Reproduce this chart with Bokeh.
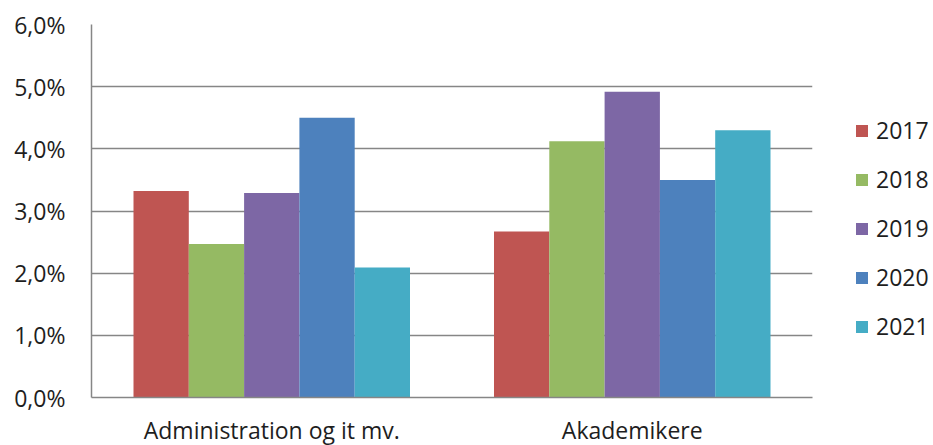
from bokeh.plotting import figure
from bokeh.models import FactorRange, Range1d, FixedTicker, Legend, LegendItem, ColumnDataSource
from bokeh.transform import dodge
from bokeh.embed import file_html
from bokeh.resources import INLINE

categories = ["Administration og it mv.", "Akademikere"]
years = ["2017", "2018", "2019", "2020", "2021"]
values_2017 = [3.32, 2.67]
values_2018 = [2.47, 4.12]
values_2019 = [3.29, 4.92]
values_2020 = [4.50, 3.50]
values_2021 = [2.09, 4.30]
y_ticks = [0, 1, 2, 3, 4, 5, 6]
y_tick_labels = ["0,0%", "1,0%", "2,0%", "3,0%", "4,0%", "5,0%", "6,0%"]
colors = ["#BF5552", "#95BA63", "#7D67A5", "#4D81BD", "#45ACC5"]

FONT = "Open Sans"
TEXT_COLOR = "#1E1E1E"
GRID_COLOR = "#868686"

source = ColumnDataSource(data=dict(
    cat=categories,
    y2017=values_2017,
    y2018=values_2018,
    y2019=values_2019,
    y2020=values_2020,
    y2021=values_2021,
))

p = figure(
    x_range=FactorRange(*categories, range_padding=0),
    y_range=Range1d(0, 6),
    frame_width=721, frame_height=373,
    min_border_left=91, min_border_top=24, min_border_right=121, min_border_bottom=46,
    output_backend="svg", toolbar_location=None,
)

bar_w = 0.1534
renderers = []
for j, yr in enumerate(years):
    r = p.vbar(x=dodge("cat", (j - 2) * bar_w, range=p.x_range), top="y" + yr,
               width=bar_w, source=source, fill_color=colors[j], line_color=None)
    renderers.append(r)

p.outline_line_color = None
p.background_fill_color = "white"
p.border_fill_color = "white"

p.xgrid.grid_line_color = None
p.ygrid.grid_line_color = GRID_COLOR
p.ygrid.grid_line_width = 1.5

p.yaxis.ticker = FixedTicker(ticks=y_ticks)
p.yaxis.major_label_overrides = {t: l for t, l in zip(y_ticks, y_tick_labels)}
for ax in (p.xaxis[0], p.yaxis[0]):
    ax.axis_line_color = GRID_COLOR
    ax.axis_line_width = 1.5
    ax.major_tick_out = 0
    ax.major_tick_in = 0
    ax.minor_tick_out = 0
    ax.minor_tick_in = 0
    ax.major_label_text_font = FONT
    ax.major_label_text_font_size = "23px"
    ax.major_label_text_color = TEXT_COLOR
p.yaxis.major_label_standoff = 26
p.xaxis.major_label_standoff = 16

legend = Legend(
    items=[LegendItem(label=yr, renderers=[r]) for yr, r in zip(years, renderers)],
    location=(42, 55),
    glyph_width=15, glyph_height=15,
    label_standoff=7, spacing=17,
    padding=0, margin=0,
    border_line_color=None, background_fill_alpha=0,
    label_text_font=FONT, label_text_font_size="23px", label_text_color=TEXT_COLOR,
)
p.add_layout(legend, "right")

open("out.html", "w").write(file_html(p, INLINE))
